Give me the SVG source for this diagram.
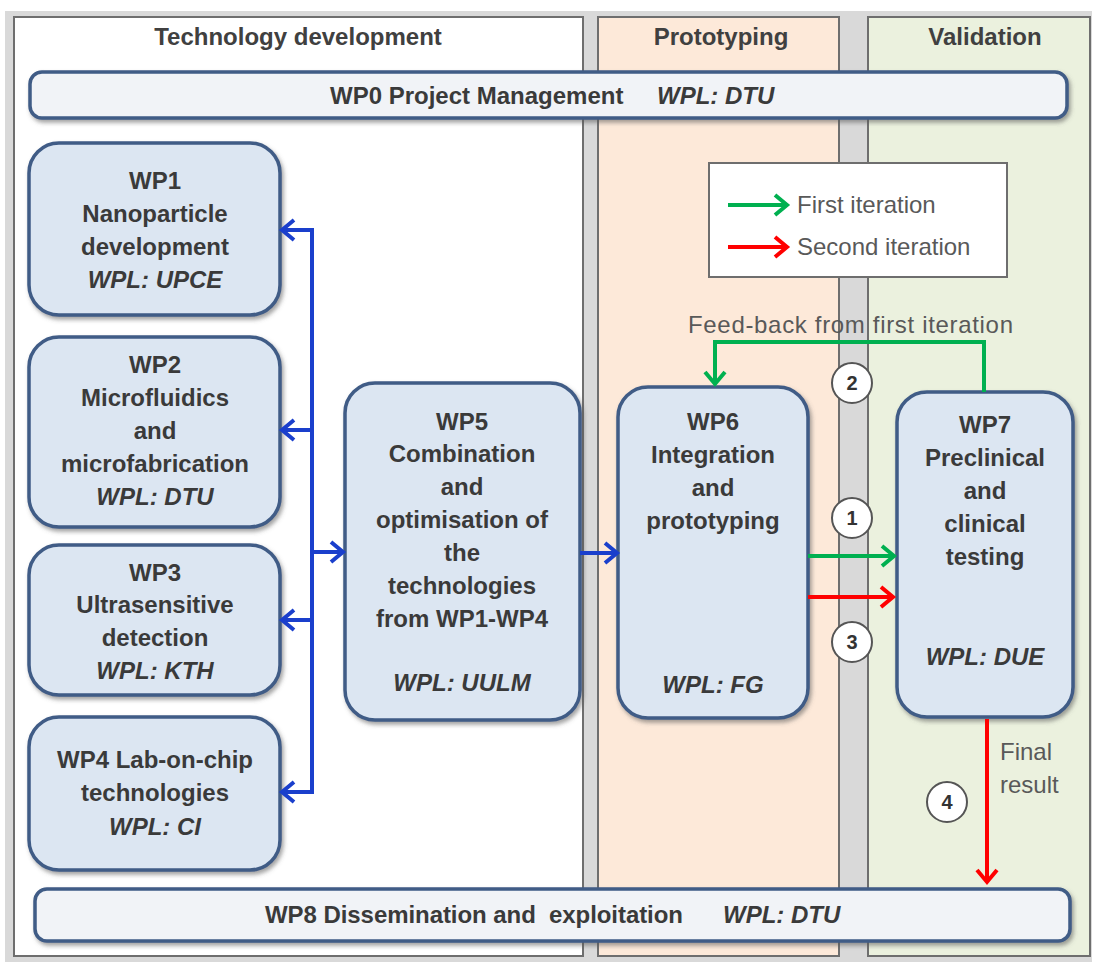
<svg xmlns="http://www.w3.org/2000/svg" width="1096" height="962" viewBox="0 0 1096 962">
<style>
.panel{stroke:#6e6e6e;stroke-width:2}
.title{font-family:"Liberation Sans",Arial,sans-serif;font-weight:bold;font-size:24px;fill:#404040;text-anchor:middle}
.box{fill:#dce6f2;stroke:#3f5b86;stroke-width:3.5;filter:url(#sh)}
.bar{fill:#f1f3f7;stroke:#3f5b86;stroke-width:3.5;filter:url(#sh)}
.t{font-family:"Liberation Sans",Arial,sans-serif;font-weight:bold;font-size:24px;fill:#3a3a3a;text-anchor:middle}
.ti{font-family:"Liberation Sans",Arial,sans-serif;font-weight:bold;font-style:italic;font-size:24px;fill:#3a3a3a;text-anchor:middle}
.tl{font-family:"Liberation Sans",Arial,sans-serif;font-weight:bold;font-size:24px;fill:#3a3a3a}
.tli{font-family:"Liberation Sans",Arial,sans-serif;font-weight:bold;font-style:italic;font-size:24px;fill:#3a3a3a}
.lg{font-family:"Liberation Sans",Arial,sans-serif;font-size:24px;fill:#595959}
.blue{stroke:#1a3fcc;stroke-width:4;fill:none}
.green{stroke:#00b050;stroke-width:4;fill:none}
.red{stroke:#ff0000;stroke-width:4;fill:none}
.circ{fill:#fff;stroke:#555;stroke-width:2}
.num{font-family:"Liberation Sans",Arial,sans-serif;font-weight:bold;font-size:20px;fill:#333;text-anchor:middle}
</style>
<defs>
<filter id="sh" x="-10%" y="-10%" width="120%" height="130%">
<feDropShadow dx="2" dy="3" stdDeviation="2" flood-color="#555" flood-opacity="0.55"/>
</filter>
<marker id="mb" markerUnits="userSpaceOnUse" markerWidth="20" markerHeight="26" refX="16" refY="13" orient="auto"><path d="M4,3 L16,13 L4,23" fill="none" stroke="#1a3fcc" stroke-width="4"/></marker>
<marker id="mg" markerUnits="userSpaceOnUse" markerWidth="20" markerHeight="26" refX="16" refY="13" orient="auto"><path d="M4,3 L16,13 L4,23" fill="none" stroke="#00b050" stroke-width="4"/></marker>
<marker id="mr" markerUnits="userSpaceOnUse" markerWidth="20" markerHeight="26" refX="16" refY="13" orient="auto"><path d="M4,3 L16,13 L4,23" fill="none" stroke="#ff0000" stroke-width="4"/></marker>
</defs>
<rect x="0" y="0" width="1096" height="962" fill="#ffffff"/>
<rect x="5" y="11" width="1087" height="951" fill="#d9d9d9"/>
<g id="panels">
<rect class="panel" x="14" y="17" width="569" height="939" fill="#ffffff"/>
<rect class="panel" x="598" y="17" width="241" height="939" fill="#fde9d9"/>
<rect class="panel" x="868" y="17" width="222" height="939" fill="#ebf1de"/>
<text class="title" x="298" y="45">Technology development</text>
<text class="title" x="721" y="45">Prototyping</text>
<text class="title" x="985" y="45">Validation</text>
</g>
<g id="wp0">
<rect class="bar" x="30" y="72" width="1037" height="46" rx="12"/>
<text class="tl" x="330" y="104">WP0 Project Management</text>
<text class="tli" x="657" y="104">WPL: DTU</text>
</g>
<g id="wp8">
<rect class="bar" x="35" y="889" width="1035" height="52" rx="12"/>
<text class="tl" x="265" y="923" xml:space="preserve" textLength="418">WP8 Dissemination and  exploitation</text>
<text class="tli" x="723" y="923">WPL:  DTU</text>
</g>
<g id="legend">
<rect x="709" y="163" width="298" height="114" fill="#ffffff" stroke="#6e6e6e" stroke-width="2"/>
<line class="green" x1="728" y1="205" x2="787" y2="205" marker-end="url(#mg)"/>
<line class="red" x1="728" y1="247" x2="787" y2="247" marker-end="url(#mr)"/>
<text class="lg" x="797" y="213">First iteration</text>
<text class="lg" x="797" y="255">Second iteration</text>
</g>
<g id="wp1">
<rect class="box" x="29" y="143" width="251" height="172" rx="30"/>
<text class="t" x="155" y="189">WP1</text>
<text class="t" x="155" y="222">Nanoparticle</text>
<text class="t" x="155" y="255">development</text>
<text class="ti" x="155" y="288">WPL:  UPCE</text>
</g>
<g id="wp2">
<rect class="box" x="29" y="337" width="251" height="190" rx="30"/>
<text class="t" x="155" y="373">WP2</text>
<text class="t" x="155" y="406">Microfluidics</text>
<text class="t" x="155" y="439">and</text>
<text class="t" x="155" y="472">microfabrication</text>
<text class="ti" x="155" y="505">WPL:  DTU</text>
</g>
<g id="wp3">
<rect class="box" x="29" y="545" width="251" height="150" rx="30"/>
<text class="t" x="155" y="581">WP3</text>
<text class="t" x="155" y="613">Ultrasensitive</text>
<text class="t" x="155" y="646">detection</text>
<text class="ti" x="155" y="679">WPL:  KTH</text>
</g>
<g id="wp4">
<rect class="box" x="29" y="717" width="251" height="153" rx="30"/>
<text class="t" x="155" y="768">WP4 Lab-on-chip</text>
<text class="t" x="155" y="801">technologies</text>
<text class="ti" x="155" y="835">WPL:   CI</text>
</g>
<g id="wp5">
<rect class="box" x="345" y="383" width="235" height="337" rx="30"/>
<text class="t" x="462" y="430">WP5</text>
<text class="t" x="462" y="462">Combination</text>
<text class="t" x="462" y="495">and</text>
<text class="t" x="462" y="528">optimisation of</text>
<text class="t" x="462" y="561">the</text>
<text class="t" x="462" y="594">technologies</text>
<text class="t" x="462" y="627">from WP1-WP4</text>
<text class="ti" x="462" y="691">WPL:  UULM</text>
</g>
<g id="wp6">
<rect class="box" x="618" y="387" width="190" height="331" rx="30"/>
<text class="t" x="713" y="430">WP6</text>
<text class="t" x="713" y="463">Integration</text>
<text class="t" x="713" y="496">and</text>
<text class="t" x="713" y="529">prototyping</text>
<text class="ti" x="713" y="693">WPL:  FG</text>
</g>
<g id="wp7">
<rect class="box" x="897" y="392" width="176" height="325" rx="30"/>
<text class="t" x="985" y="433">WP7</text>
<text class="t" x="985" y="466">Preclinical</text>
<text class="t" x="985" y="499">and</text>
<text class="t" x="985" y="532">clinical</text>
<text class="t" x="985" y="565">testing</text>
<text class="ti" x="985" y="665">WPL:  DUE</text>
</g>
<g id="connectors">
<line class="blue" x1="312" y1="228" x2="312" y2="794"/>
<line class="blue" x1="314" y1="230" x2="282" y2="230" marker-end="url(#mb)"/>
<line class="blue" x1="314" y1="430" x2="282" y2="430" marker-end="url(#mb)"/>
<line class="blue" x1="314" y1="620" x2="282" y2="620" marker-end="url(#mb)"/>
<line class="blue" x1="314" y1="792" x2="282" y2="792" marker-end="url(#mb)"/>
<line class="blue" x1="310" y1="552" x2="343" y2="552" marker-end="url(#mb)"/>
<line class="blue" x1="580" y1="553" x2="617" y2="553" marker-end="url(#mb)"/>
<path class="green" d="M984,392 V342 H715 V384" marker-end="url(#mg)"/>
<line class="green" x1="808" y1="556" x2="894" y2="556" marker-end="url(#mg)"/>
<line class="red" x1="808" y1="597" x2="893" y2="597" marker-end="url(#mr)"/>
<line class="red" x1="987" y1="719" x2="987" y2="882" marker-end="url(#mr)"/>
<text class="lg" x="688" y="333" textLength="325">Feed-back from first iteration</text>
<text class="lg" x="1000" y="760" font-size="22">Final</text>
<text class="lg" x="1000" y="793" font-size="22">result</text>
</g>
<g id="badges">
<circle class="circ" cx="852" cy="383" r="20"/><text class="num" x="852" y="390">2</text>
<circle class="circ" cx="852" cy="518" r="20"/><text class="num" x="852" y="525">1</text>
<circle class="circ" cx="852" cy="642" r="20"/><text class="num" x="852" y="649">3</text>
<circle class="circ" cx="947" cy="802" r="20"/><text class="num" x="947" y="809">4</text>
</g>
</svg>
